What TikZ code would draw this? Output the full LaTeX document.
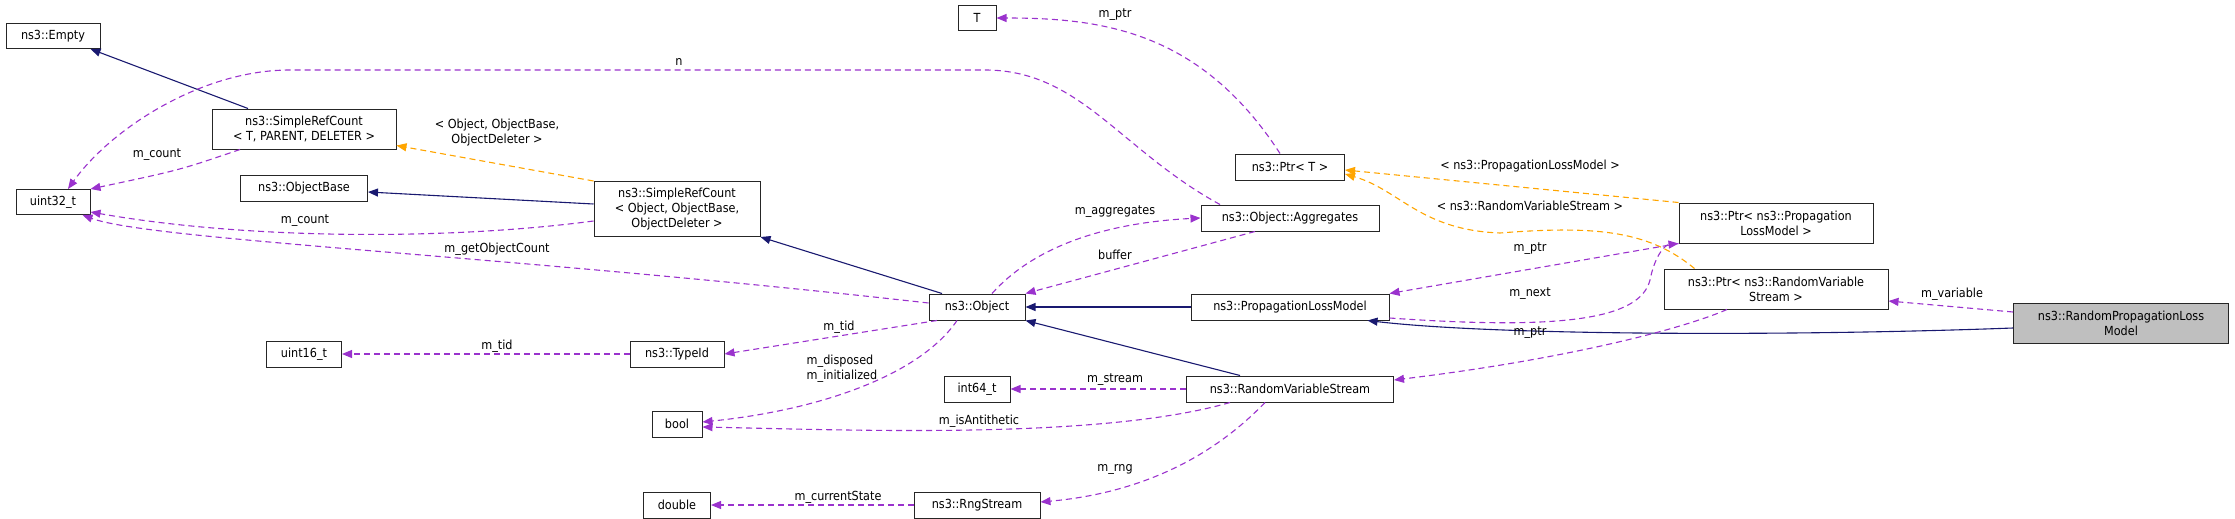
\documentclass[tikz,border=0pt]{standalone}
\usepackage{fontspec}
\setmainfont{DejaVu Sans Condensed}
\usetikzlibrary{arrows.meta}
\definecolor{nav}{HTML}{191970}
\definecolor{pur}{HTML}{9A32CD}
\definecolor{org}{HTML}{FFA500}
\begin{document}
\begin{tikzpicture}[x=1pt,y=-1pt,
  font=\fontsize{12.5}{15}\selectfont,
  box/.style={draw=black!85,line width=1pt,fill=white,align=center,inner sep=2pt},
  tip/.style={-{Triangle[length=10pt,width=8pt]}},
  inh/.style={tip,draw=nav,line width=1.1pt},
  mem/.style={tip,draw=pur,line width=1.1pt,dash pattern=on 6pt off 4pt},
  tpl/.style={tip,draw=org,line width=1.1pt,dash pattern=on 6pt off 4pt},
  lab/.style={inner sep=1pt,align=center}]
\useasboundingbox (0,0) rectangle (2235,519);
\node[box,minimum width=94pt,minimum height=25pt] (empty) at (53,36) {ns3::Empty};
\node[box,minimum width=184pt,minimum height=40pt] (srcT) at (304,129) {ns3::SimpleRefCount\\\textless{} T, PARENT, DELETER \textgreater};
\node[box,minimum width=74pt,minimum height=25pt] (u32) at (53,202) {uint32\_t};
\node[box,minimum width=127pt,minimum height=26pt] (obase) at (304,188) {ns3::ObjectBase};
\node[box,minimum width=166pt,minimum height=55pt] (srcO) at (677,209) {ns3::SimpleRefCount\\\textless{} Object, ObjectBase,\\ObjectDeleter \textgreater};
\node[box,minimum width=75pt,minimum height=26pt] (u16) at (304,354) {uint16\_t};
\node[box,minimum width=94pt,minimum height=26pt] (tid) at (677,354) {ns3::TypeId};
\node[box,minimum width=50pt,minimum height=26pt] (bool) at (677,424) {bool};
\node[box,minimum width=67pt,minimum height=26pt] (dbl) at (677,505) {double};
\node[box,minimum width=38pt,minimum height=25pt] (T) at (977,18) {T};
\node[box,minimum width=109pt,minimum height=26pt] (ptrT) at (1290,167) {ns3::Ptr\textless{} T \textgreater};
\node[box,minimum width=178pt,minimum height=26pt] (agg) at (1290,218) {ns3::Object::Aggregates};
\node[box,minimum width=96pt,minimum height=26pt] (obj) at (977,307) {ns3::Object};
\node[box,minimum width=198pt,minimum height=26pt] (plm) at (1290,307) {ns3::PropagationLossModel};
\node[box,minimum width=66pt,minimum height=26pt] (i64) at (977,389) {int64\_t};
\node[box,minimum width=207pt,minimum height=26pt] (rvs) at (1290,389) {ns3::RandomVariableStream};
\node[box,minimum width=126pt,minimum height=26pt] (rng) at (977,505) {ns3::RngStream};
\node[box,minimum width=194pt,minimum height=40pt] (ptrP) at (1776,223) {ns3::Ptr\textless{} ns3::Propagation\\LossModel \textgreater};
\node[box,minimum width=224pt,minimum height=40pt] (ptrR) at (1776,289) {ns3::Ptr\textless{} ns3::RandomVariable\\Stream \textgreater};
\node[box,fill=black!25,minimum width=215pt,minimum height=40pt] (rplm) at (2121,323) {ns3::RandomPropagationLoss\\Model};

\draw[inh] ([xshift=-56pt]srcT.north) -- ([xshift=-10pt]empty.south east);
\draw[mem] ([xshift=-64pt]srcT.south) .. controls (180,170) .. (u32.north east);
\node[lab] (l1) at (157,155) {m\_count};
\draw[mem] ([xshift=-70pt]agg.north) .. controls (1120,150) and (1080,70) .. (985,70) -- (290,70) .. controls (200,70) and (110,130) .. ([xshift=15pt]u32.north);
\node[lab] (l2) at (679,62) {n};
\draw[tpl] (srcO.north west) -- ([yshift=4pt]srcT.south east);
\node[lab] (l3) at (497,133) {\textless{} Object, ObjectBase,\\ObjectDeleter \textgreater};
\draw[inh] ([yshift=5pt]srcO.west) -- ([yshift=-4pt]obase.east);
\draw[mem] ([yshift=-12pt]srcO.west) .. controls (450,240) and (250,240) .. ([yshift=-10pt]u32.east);
\node[lab] (l4) at (305,221) {m\_count};
\draw[mem] ([yshift=4pt]obj.west) .. controls (500,255) and (150,240) .. ([xshift=-8pt]u32.south east);
\node[lab] (l5) at (497,249) {m\_getObjectCount};
\draw[inh] ([xshift=-35pt]obj.north) -- (srcO.south east);
\draw[mem] ([xshift=15pt]obj.north) .. controls (1040,240) and (1120,222) .. (agg.west);
\node[lab] (l6) at (1115,212) {m\_aggregates};
\draw[mem] ([xshift=-35pt]agg.south) -- (obj.north east);
\node[lab] (l7) at (1115,255) {buffer};
\draw[mem] ([xshift=-10pt]ptrT.north) .. controls (1200,30) and (1100,18) .. (T.east);
\node[lab] (l8) at (1115,15) {m\_ptr};
\draw[inh] (plm.west) -- (obj.east);
\draw[inh] ([xshift=-50pt]rvs.north) -- (obj.south east);
\draw[mem] ([xshift=-40pt]obj.south) -- (tid.east);
\node[lab] (l9) at (839,327) {m\_tid};
\draw[mem] (tid.west) -- (u16.east);
\node[lab] (l10) at (497,346) {m\_tid};
\draw[mem] ([xshift=-20pt]obj.south) .. controls (920,375) and (820,410) .. ([yshift=2pt]bool.east);
\node[lab,align=left] (l11) at (842,369) {m\_disposed\\m\_initialized};
\draw[mem] ([xshift=-60pt]rvs.south) .. controls (1100,440) and (850,430) .. ([yshift=-3pt]bool.east);
\node[lab] (l12) at (979,421) {m\_isAntithetic};
\draw[mem] (rvs.west) -- (i64.east);
\node[lab] (l13) at (1115,380) {m\_stream};
\draw[mem] ([xshift=-25pt]rvs.south) .. controls (1200,470) and (1120,495) .. ([yshift=3pt]rng.east);
\node[lab] (l14) at (1115,469) {m\_rng};
\draw[mem] (rng.west) -- (dbl.east);
\node[lab] (l15) at (838,497) {m\_currentState};
\draw[tpl] (ptrP.north west) -- ([yshift=-3pt]ptrT.east);
\node[lab] (l16) at (1530,166) {\textless{} ns3::PropagationLossModel \textgreater};
\draw[tpl] ([xshift=31pt]ptrR.north west) .. controls (1650,232) and (1600,225) .. (1500,233) .. controls (1420,230) and (1400,190) .. ([yshift=-7pt]ptrT.east);
\node[lab] (l17) at (1530,206) {\textless{} ns3::RandomVariableStream \textgreater};
\draw[mem] (ptrP.south west) -- (plm.north east);
\node[lab] (l18) at (1530,249) {m\_ptr};
\draw[mem] ([yshift=-11pt]plm.east) .. controls (1560,330) and (1640,320) .. (1650,280) .. controls (1655,255) and (1665,245) .. (ptrP.south west);
\node[lab] (l19) at (1530,294) {m\_next};
\draw[inh] ([yshift=-5pt]rplm.west) .. controls (1800,336) and (1500,336) .. ([xshift=-22pt]plm.south east);
\draw[mem] ([yshift=11pt]rplm.west) -- ([yshift=-12pt]ptrR.east);
\node[lab] (l20) at (1952,294) {m\_variable};
\draw[mem] ([xshift=-49pt]ptrR.south) .. controls (1680,330) and (1560,360) .. ([yshift=9pt]rvs.east);
\node[lab] (l21) at (1530,333) {m\_ptr};
\end{tikzpicture}
\end{document}
